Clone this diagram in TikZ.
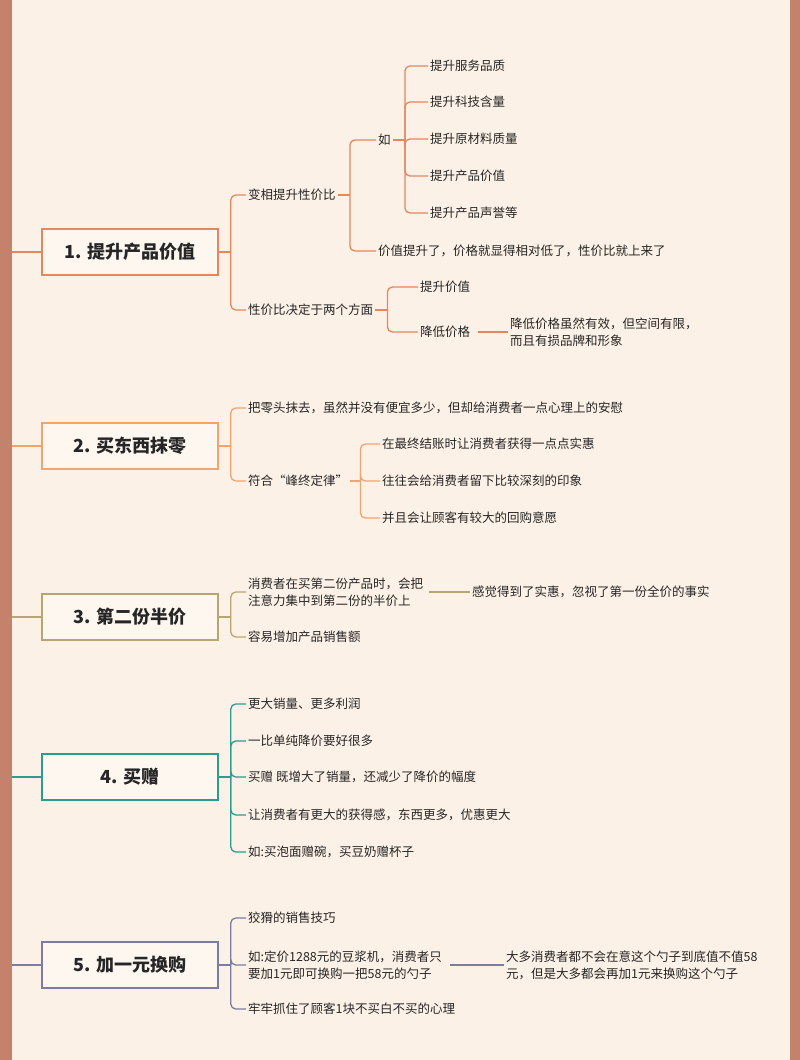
\documentclass[tikz,border=0pt]{standalone}
\usepackage{fontspec}
\setmainfont{Noto Sans CJK SC}
\usetikzlibrary{positioning}
\definecolor{bgcream}{HTML}{FCF1E6}
\definecolor{framebrown}{HTML}{C4826C}
\definecolor{secA}{HTML}{E3875F}
\definecolor{secB}{HTML}{F2A46E}
\definecolor{secC}{HTML}{B7A672}
\definecolor{secD}{HTML}{2A9C90}
\definecolor{secE}{HTML}{7C7CA2}
\tikzset{
  title/.style={draw=#1, line width=1.6pt, fill=bgcream!60!white, minimum width=176pt, minimum height=46pt,
    font=\fontsize{18}{22}\selectfont\bfseries, text=black!85},
  leaf/.style={anchor=west, inner sep=2pt, font=\fontsize{12.5}{17}\selectfont, text=black!85, align=left},
  bline/.style={draw=#1, line width=1.3pt, rounded corners=5pt},
}
\begin{document}
\begin{tikzpicture}[x=1pt, y=-1pt]
  \useasboundingbox (0,0) rectangle (800,1060);
  \fill[bgcream] (0,0) rectangle (800,1060);
  \fill[framebrown] (0,0) rectangle (12,1060);
  \fill[framebrown] (790,0) rectangle (800,1060);

  % 1. 提升产品价值
  \node[title=secA] (s1) at (130,252) {1. 提升产品价值};
  \node[leaf] (s1a) at (246,195) {变相提升性价比};
  \node[leaf] (s1b) at (246,310) {性价比决定于两个方面};
  \node[leaf] (s1a1) at (376,140) {如};
  \node[leaf] (s1a2) at (376,251) {价值提升了，价格就显得相对低了，性价比就上来了};
  \node[leaf] (r1) at (428,66) {提升服务品质};
  \node[leaf] (r2) at (428,102) {提升科技含量};
  \node[leaf] (r3) at (428,139) {提升原材料质量};
  \node[leaf] (r4) at (428,176) {提升产品价值};
  \node[leaf] (r5) at (428,213) {提升产品声誉等};
  \node[leaf] (s1b1) at (418,287) {提升价值};
  \node[leaf] (s1b2) at (418,332) {降低价格};
  \node[leaf] (s1b3) at (508,332) {降低价格虽然有效，但空间有限，\\而且有损品牌和形象};
  \draw[bline=secA] (12,252) -- (s1.west);
  \draw[bline=secA] (s1.east) -- ++(12,0) coordinate (j1);
  \foreach \c in {s1a,s1b} \draw[bline=secA] (j1) |- (\c.west);
  \draw[bline=secA] (s1a.east) -- ++(12,0) coordinate (j1a);
  \foreach \c in {s1a1,s1a2} \draw[bline=secA] (j1a) |- (\c.west);
  \draw[bline=secA] (s1a1.east) -- ++(12,0) coordinate (j1r);
  \foreach \c in {r1,r2,r3,r4,r5} \draw[bline=secA] (j1r) |- (\c.west);
  \draw[bline=secA] (s1b.east) -- ++(12,0) coordinate (j1b);
  \foreach \c in {s1b1,s1b2} \draw[bline=secA] (j1b) |- (\c.west);
  \draw[bline=secA] (s1b2.east) ++(6,0) -- (s1b3.west);

  % 2. 买东西抹零
  \node[title=secB] (s2) at (130,446) {2. 买东西抹零};
  \node[leaf] (s2a) at (246,408) {把零头抹去，虽然并没有便宜多少，但却给消费者一点心理上的安慰};
  \node[leaf] (s2b) at (246,481) {符合“峰终定律”};
  \node[leaf] (p1) at (380,444) {在最终结账时让消费者获得一点点实惠};
  \node[leaf] (p2) at (380,481) {往往会给消费者留下比较深刻的印象};
  \node[leaf] (p3) at (380,518) {并且会让顾客有较大的回购意愿};
  \draw[bline=secB] (12,446) -- (s2.west);
  \draw[bline=secB] (s2.east) -- ++(12,0) coordinate (j2);
  \foreach \c in {s2a,s2b} \draw[bline=secB] (j2) |- (\c.west);
  \draw[bline=secB] (s2b.east) -- ++(10,0) coordinate (j2b);
  \foreach \c in {p1,p2,p3} \draw[bline=secB] (j2b) |- (\c.west);

  % 3. 第二份半价
  \node[title=secC] (s3) at (130,617) {3. 第二份半价};
  \node[leaf] (s3a) at (246,592) {消费者在买第二份产品时，会把\\注意力集中到第二份的半价上};
  \node[leaf] (s3b) at (246,637) {容易增加产品销售额};
  \node[leaf] (s3c) at (470,592) {感觉得到了实惠，忽视了第一份全价的事实};
  \draw[bline=secC] (12,617) -- (s3.west);
  \draw[bline=secC] (s3.east) -- ++(12,0) coordinate (j3);
  \foreach \c in {s3a,s3b} \draw[bline=secC] (j3) |- (\c.west);
  \draw[bline=secC] (s3a.east) ++(4,0) -- (s3c.west);

  % 4. 买赠
  \node[title=secD] (s4) at (130,777) {4. 买赠};
  \node[leaf] (q1) at (246,704) {更大销量、更多利润};
  \node[leaf] (q2) at (246,741) {一比单纯降价要好很多};
  \node[leaf] (q3) at (246,777) {买赠 既增大了销量，还减少了降价的幅度};
  \node[leaf] (q4) at (246,815) {让消费者有更大的获得感，东西更多，优惠更大};
  \node[leaf] (q5) at (246,852) {如:买泡面赠碗，买豆奶赠杯子};
  \draw[bline=secD] (12,777) -- (s4.west);
  \draw[bline=secD] (s4.east) -- ++(12,0) coordinate (j4);
  \foreach \c in {q1,q2,q3,q4,q5} \draw[bline=secD] (j4) |- (\c.west);

  % 5. 加一元换购
  \node[title=secE] (s5) at (130,965) {5. 加一元换购};
  \node[leaf] (s5a) at (246,918) {狡猾的销售技巧};
  \node[leaf] (s5b) at (246,965) {如:定价1288元的豆浆机，消费者只\\要加1元即可换购一把58元的勺子};
  \node[leaf] (s5c) at (246,1009) {牢牢抓住了顾客1块不买白不买的心理};
  \node[leaf] (s5d) at (504,965) {大多消费者都不会在意这个勺子到底值不值58\\元，但是大多都会再加1元来换购这个勺子};
  \draw[bline=secE] (12,965) -- (s5.west);
  \draw[bline=secE] (s5.east) -- ++(12,0) coordinate (j5);
  \foreach \c in {s5a,s5b,s5c} \draw[bline=secE] (j5) |- (\c.west);
  \draw[bline=secE] (s5b.east) ++(6,0) -- (s5d.west);
\end{tikzpicture}
\end{document}
